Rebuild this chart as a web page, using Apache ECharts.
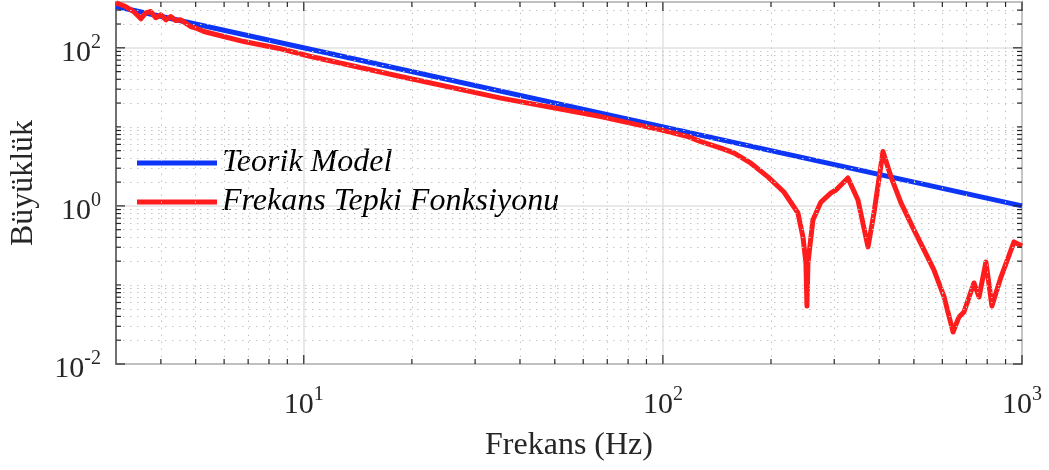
<!DOCTYPE html>
<html>
<head>
<meta charset="utf-8">
<script src="https://cdn.jsdelivr.net/npm/echarts@6/dist/echarts.min.js"></script>
<style>
  html, body { margin: 0; padding: 0; background: #fff; }
  #chart { width: 1049px; height: 470px; }
</style>
</head>
<body>
<div id="chart"></div>
<script>
// Teorik model (straight line on log-log, end points)
const modelFreq = [3, 1000];
const modelMag = [333, 1];

// Frekans tepki fonksiyonu
const frfFreq = [3.0, 3.19, 3.36, 3.52, 3.63, 3.75, 3.87, 4.0, 4.13, 4.26, 4.4, 4.54, 4.69, 4.84, 5.0, 5.27, 5.87, 6.81, 8.47, 10.46, 18.6, 35.4, 67.1, 98.7, 117.4, 127.6, 145.1, 157.6, 175.8, 196.1, 217.3, 237.7, 245.5, 250.2, 251.9, 253.5, 261.7, 275.5, 293.8, 303.4, 327.5, 349.3, 372.6, 387.1, 410.0, 431.7, 460.3, 500.3, 547.2, 568.4, 606.7, 642.7, 667.6, 689.2, 734.8, 759.2, 793.6, 824.6, 873.8, 950.0, 1000];
const frfMag = [371, 333, 288, 233, 277, 288, 240, 262, 226, 249, 222, 226, 205, 186, 178, 161, 142, 120, 99, 77.6, 43.3, 23.1, 13.5, 9.16, 7.54, 6.52, 5.37, 4.69, 3.47, 2.33, 1.5, 0.815, 0.405, 0.19, 0.054, 0.19, 0.665, 1.12, 1.46, 1.59, 2.26, 1.19, 0.303, 0.815, 4.87, 2.33, 1.09, 0.497, 0.22, 0.155, 0.0705, 0.0254, 0.0394, 0.0455, 0.106, 0.0705, 0.195, 0.0542, 0.126, 0.35, 0.312];

// axis ranges and ticks
const xMin = 3, xMax = 1000;
const yMin = 0.01, yMax = 380;
const xMajor = [10, 100, 1000];
const xMinor = [4, 5, 6, 7, 8, 9, 20, 30, 40, 50, 60, 70, 80, 90, 200, 300, 400, 500, 600, 700, 800, 900];
const yMajor = [0.01, 1, 100];
const yMinor = [0.02, 0.03, 0.04, 0.05, 0.06, 0.07, 0.08, 0.09, 0.1, 0.2, 0.3, 0.4, 0.5, 0.6, 0.7, 0.8, 0.9, 2, 3, 4, 5, 6, 7, 8, 9, 10, 20, 30, 40, 50, 60, 70, 80, 90, 200, 300];

const FONT = 'Liberation Serif';
const AXIS_COLOR = '#262626';

function zip(a, b) {
  return a.map((v, i) => [v, b[i]]);
}

function powLabel(value, step) {
  let e = Math.log10(value);
  let r = Math.round(e);
  if (Math.abs(e - r) > 1e-6 || r % step !== 0) return '';
  return '{b|10}{s|' + r + '}';
}

const labelRich = {
  b: { fontFamily: FONT, fontSize: 30, lineHeight: 30, color: AXIS_COLOR, padding: [10, 0, 0, 0] },
  s: { fontFamily: FONT, fontSize: 20, lineHeight: 20, color: AXIS_COLOR, verticalAlign: 'top' }
};

// tick marks drawn inward on all four sides (matlab box style)
function xTickItem(params, api) {
  let v = api.value(0);
  let len = api.value(2);
  let b = api.coord([v, yMin]);
  let t = api.coord([v, yMax]);
  let style = { stroke: AXIS_COLOR, lineWidth: 1.2 };
  return {
    type: 'group',
    children: [
      { type: 'line', shape: { x1: b[0], y1: b[1], x2: b[0], y2: b[1] - len }, style: style },
      { type: 'line', shape: { x1: t[0], y1: t[1], x2: t[0], y2: t[1] + len }, style: style }
    ]
  };
}
function yTickItem(params, api) {
  let v = api.value(1);
  let len = api.value(2);
  let l = api.coord([xMin, v]);
  let r = api.coord([xMax, v]);
  let style = { stroke: AXIS_COLOR, lineWidth: 1.2 };
  return {
    type: 'group',
    children: [
      { type: 'line', shape: { x1: l[0], y1: l[1], x2: l[0] + len, y2: l[1] }, style: style },
      { type: 'line', shape: { x1: r[0], y1: r[1], x2: r[0] - len, y2: r[1] }, style: style }
    ]
  };
}

const xTickData = xMinor.map(v => [v, yMin, 5]).concat(xMajor.map(v => [v, yMin, 9]));
const yTickData = yMinor.map(v => [xMin, v, 5]).concat(yMajor.map(v => [xMin, v, 9]));

const minorGrid = xMinor.map(v => ({ xAxis: v })).concat(yMinor.map(v => ({ yAxis: v })));

const chart = echarts.init(document.getElementById('chart'));
chart.setOption({
  animation: false,
  backgroundColor: '#fff',
  grid: {
    left: 115,
    right: 27,
    top: 2,
    bottom: 106,
    show: true,
    borderColor: AXIS_COLOR,
    borderWidth: 1.3,
    backgroundColor: 'transparent'
  },
  legend: {
    data: ['Teorik Model', 'Frekans Tepki Fonksiyonu'],
    orient: 'vertical',
    left: 132,
    top: 142,
    itemWidth: 80,
    itemHeight: 5,
    itemGap: 7,
    icon: 'rect',
    textStyle: { fontFamily: FONT, fontStyle: 'italic', fontSize: 32, color: '#000' }
  },
  xAxis: {
    type: 'log',
    logBase: 10,
    min: xMin,
    max: xMax,
    name: 'Frekans (Hz)',
    nameLocation: 'middle',
    nameGap: 66,
    nameTextStyle: { fontFamily: FONT, fontSize: 32, color: AXIS_COLOR },
    axisLine: { show: false },
    axisTick: { show: false, customValues: xMajor },
    axisLabel: {
      margin: 21,
      customValues: xMajor,
      formatter: v => powLabel(v, 1),
      rich: labelRich
    },
    splitLine: { show: true, lineStyle: { color: '#e2e2e2', width: 1.5 } }
  },
  yAxis: {
    type: 'log',
    logBase: 10,
    min: yMin,
    max: yMax,
    interval: 2,
    name: 'Büyüklük',
    nameLocation: 'middle',
    nameGap: 76,
    nameTextStyle: { fontFamily: FONT, fontSize: 32, color: AXIS_COLOR },
    axisLine: { show: false },
    axisTick: { show: false },
    axisLabel: {
      margin: 15,
      formatter: v => powLabel(v, 2),
      rich: labelRich
    },
    splitLine: { show: true, lineStyle: { color: '#e2e2e2', width: 1.5 } }
  },
  series: [
    {
      name: 'grid-minor',
      type: 'line',
      data: [],
      z: 1,
      silent: true,
      markLine: {
        silent: true,
        symbol: 'none',
        label: { show: false },
        lineStyle: { color: '#c4c4c4', width: 1, type: [1.5, 5.5] },
        data: minorGrid
      }
    },
    {
      name: 'ticks-x',
      type: 'custom',
      renderItem: xTickItem,
      data: xTickData,
      z: 5,
      silent: true
    },
    {
      name: 'ticks-y',
      type: 'custom',
      renderItem: yTickItem,
      data: yTickData,
      z: 5,
      silent: true
    },
    {
      name: 'Teorik Model',
      type: 'line',
      data: zip(modelFreq, modelMag),
      showSymbol: false,
      z: 3,
      lineStyle: { color: '#0d35f5', width: 5 },
      itemStyle: { color: '#0d35f5' }
    },
    {
      name: 'Frekans Tepki Fonksiyonu',
      type: 'line',
      data: zip(frfFreq, frfMag),
      showSymbol: false,
      z: 4,
      lineStyle: { color: '#ff1c1c', width: 5, join: 'round' },
      itemStyle: { color: '#ff1c1c' }
    }
  ]
});
</script>
</body>
</html>
